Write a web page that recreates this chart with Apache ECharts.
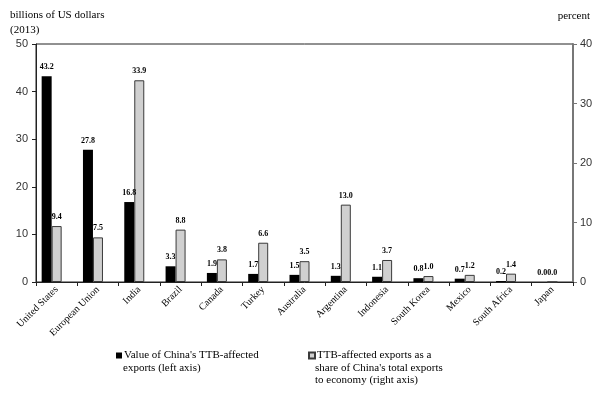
<!DOCTYPE html>
<html>
<head>
<meta charset="utf-8">
<title>TTB-affected exports</title>
<script src="https://cdn.jsdelivr.net/npm/echarts@6/dist/echarts.min.js"></script>
</head>
<body style="margin:0;background:#fff;">
<div id="main" style="width:604px;height:397px;"></div>
<script>
    var economies = ['United States', 'European Union', 'India', 'Brazil', 'Canada', 'Turkey',
        'Australia', 'Argentina', 'Indonesia', 'South Korea', 'Mexico', 'South Africa', 'Japan'];
    // billions of US dollars (left axis)
    var exportValue = [43.2, 27.8, 16.8, 3.3, 1.9, 1.7, 1.5, 1.3, 1.1, 0.8, 0.7, 0.2, 0.0];
    // percent of China's total exports to economy (right axis)
    var exportShare = [9.4, 7.5, 33.9, 8.8, 3.8, 6.6, 3.5, 13.0, 3.7, 1.0, 1.2, 1.4, 0.0];
    // the source chart keeps an empty third slot in each group
    var emptySlot = [];
    var leftTicks = [0, 50, 10];
    var rightTicks = [0, 40, 10];

    var nameValue = "Value of China's TTB-affected";
    var nameShare = 'TTB-affected exports as a';

    var serif = '"Liberation Serif", "DejaVu Serif", serif';
    var sans = '"Liberation Sans", Arial, sans-serif';

    var barLabel = {
        show: true,
        position: 'top',
        distance: 5,
        fontFamily: serif,
        fontWeight: 'bold',
        fontSize: 8,
        color: '#000',
        formatter: function (p) { return p.value.toFixed(1); }
    };

    var myChart = echarts.init(document.getElementById('main'));
    myChart.setOption({
        animation: false,
        grid: {
            left: 36, right: 31, top: 44, bottom: 115,
            show: true, borderColor: '#222', borderWidth: 1
        },
        legend: [{
            data: [nameValue],
            left: 116, top: 350, padding: 0,
            icon: 'rect', itemWidth: 6, itemHeight: 6, itemGap: 0,
            textStyle: { fontFamily: serif, fontSize: 11, color: '#000', padding: [0, 0, 0, -3] }
        }, {
            data: [nameShare],
            left: 308, top: 350, padding: 0,
            icon: 'rect', itemWidth: 6, itemHeight: 6, itemGap: 0,
            textStyle: { fontFamily: serif, fontSize: 11, color: '#000', padding: [0, 0, 0, -3] }
        }],
        graphic: [
            { type: 'text', left: 10, top: 10, style: { text: 'billions of US dollars', font: '11px ' + serif, fill: '#000' } },
            { type: 'text', left: 10, top: 25, style: { text: '(2013)', font: '11px ' + serif, fill: '#000' } },
            { type: 'text', right: 14, top: 11, style: { text: 'percent', font: '11px ' + serif, fill: '#000' } },
            { type: 'text', left: 123, top: 363, style: { text: 'exports (left axis)', font: '11px ' + serif, fill: '#000' } },
            { type: 'text', left: 315, top: 363, style: { text: "share of China's total exports", font: '11px ' + serif, fill: '#000' } },
            { type: 'text', left: 315, top: 375, style: { text: 'to economy (right axis)', font: '11px ' + serif, fill: '#000' } }
        ],
        xAxis: {
            type: 'category',
            data: economies,
            axisLine: { lineStyle: { color: '#222', width: 1 } },
            axisTick: { show: true, length: 4, lineStyle: { color: '#222' } },
            axisLabel: {
                rotate: 45, margin: 6, interval: 0,
                fontFamily: serif, fontSize: 10, color: '#000'
            }
        },
        yAxis: [{
            type: 'value',
            min: leftTicks[0], max: leftTicks[1], interval: leftTicks[2],
            splitLine: { show: false },
            axisLine: { show: true, lineStyle: { color: '#222' } },
            axisTick: { show: true, length: 4, lineStyle: { color: '#222' } },
            axisLabel: { fontFamily: sans, fontSize: 11, color: '#333', margin: 8 }
        }, {
            type: 'value',
            position: 'right',
            min: rightTicks[0], max: rightTicks[1], interval: rightTicks[2],
            splitLine: { show: false },
            axisLine: { show: true, lineStyle: { color: '#777', width: 2 } },
            axisTick: { show: true, length: 4, lineStyle: { color: '#777' } },
            axisLabel: { fontFamily: sans, fontSize: 11, color: '#333', margin: 7 }
        }],
        series: [{
            name: nameValue,
            type: 'bar',
            yAxisIndex: 0,
            data: exportValue,
            barWidth: 10,
            barGap: '0%',
            itemStyle: { color: '#000' },
            label: barLabel
        }, {
            name: nameShare,
            type: 'bar',
            yAxisIndex: 1,
            data: exportShare,
            barWidth: 10,
            barGap: '0%',
            itemStyle: { color: '#d0d0d0', borderColor: '#3a3a3a', borderWidth: 1 },
            label: barLabel
        }, {
            name: 'empty',
            type: 'bar',
            yAxisIndex: 1,
            data: emptySlot,
            barWidth: 10,
            barGap: '0%'
        }]
    });
</script>
</body>
</html>
